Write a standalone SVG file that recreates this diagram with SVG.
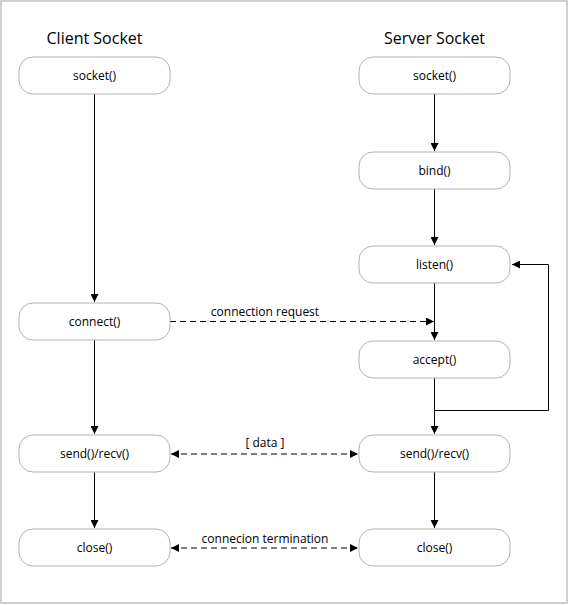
<svg xmlns="http://www.w3.org/2000/svg" width="575" height="605" viewBox="0 0 575 605">
<style>
.box{fill:#fff;stroke:#b3b3b3;stroke-width:1}
.t{font-family:"Open Sans","Noto Sans",sans-serif;font-size:12px;fill:#000;text-anchor:middle}
.h{font-family:"Open Sans","Noto Sans",sans-serif;font-size:16px;fill:#000;text-anchor:middle}
.c{fill:none;stroke:#000;stroke-width:1}
.d{stroke-dasharray:6 4}
</style>
<defs>
<marker id="a" viewBox="0 0 10 10" refX="10" refY="5" markerWidth="8" markerHeight="8" markerUnits="userSpaceOnUse" orient="auto-start-reverse">
<path d="M0,0 L10,5 L0,10 Z" fill="#000"/>
</marker>
</defs>
<rect x="1" y="1" width="566" height="602" fill="#fff" stroke="#d0d0d0" stroke-width="2"/>
<text class="h" x="94.5" y="44">Client Socket</text>
<text class="h" x="434.5" y="44">Server Socket</text>
<g id="connectors">
<path class="c" d="M94.5,94 V302" marker-end="url(#a)"/>
<path class="c" d="M94.5,340 V434" marker-end="url(#a)"/>
<path class="c" d="M94.5,472 V528" marker-end="url(#a)"/>
<path class="c" d="M434.5,94 V151" marker-end="url(#a)"/>
<path class="c" d="M434.5,189 V245" marker-end="url(#a)"/>
<path class="c" d="M434.5,283 V340" marker-end="url(#a)"/>
<path class="c" d="M434.5,378 V434" marker-end="url(#a)"/>
<path class="c" d="M434.5,410.5 H548.5 V264.5 H512" marker-end="url(#a)"/>
<path class="c" d="M434.5,472 V528" marker-end="url(#a)"/>
<path class="c d" d="M170,321.5 H434" marker-end="url(#a)"/>
<path class="c d" d="M171,454 H358" marker-start="url(#a)" marker-end="url(#a)"/>
<path class="c d" d="M171,548 H358" marker-start="url(#a)" marker-end="url(#a)"/>
<text class="t" x="265" y="316">connection request</text>
<text class="t" x="265" y="447">[ data ]</text>
<text class="t" x="265" y="543">connecion termination</text>
</g>
<g id="c_socket"><rect class="box" x="19" y="57" width="151" height="37" rx="14"/><text class="t" x="94.5" y="80">socket()</text></g>
<g id="c_connect"><rect class="box" x="19" y="303" width="151" height="37" rx="14"/><text class="t" x="94.5" y="326">connect()</text></g>
<g id="c_send"><rect class="box" x="19" y="435" width="151" height="37" rx="14"/><text class="t" x="94.5" y="458">send()/recv()</text></g>
<g id="c_close"><rect class="box" x="19" y="529" width="151" height="37" rx="14"/><text class="t" x="94.5" y="552">close()</text></g>
<g id="s_socket"><rect class="box" x="359" y="57" width="151" height="37" rx="14"/><text class="t" x="434.5" y="80">socket()</text></g>
<g id="s_bind"><rect class="box" x="359" y="152" width="151" height="37" rx="14"/><text class="t" x="434.5" y="175">bind()</text></g>
<g id="s_listen"><rect class="box" x="359" y="246" width="151" height="37" rx="14"/><text class="t" x="434.5" y="269">listen()</text></g>
<g id="s_accept"><rect class="box" x="359" y="341" width="151" height="37" rx="14"/><text class="t" x="434.5" y="364">accept()</text></g>
<g id="s_send"><rect class="box" x="359" y="435" width="151" height="37" rx="14"/><text class="t" x="434.5" y="458">send()/recv()</text></g>
<g id="s_close"><rect class="box" x="359" y="529" width="151" height="37" rx="14"/><text class="t" x="434.5" y="552">close()</text></g>
</svg>
